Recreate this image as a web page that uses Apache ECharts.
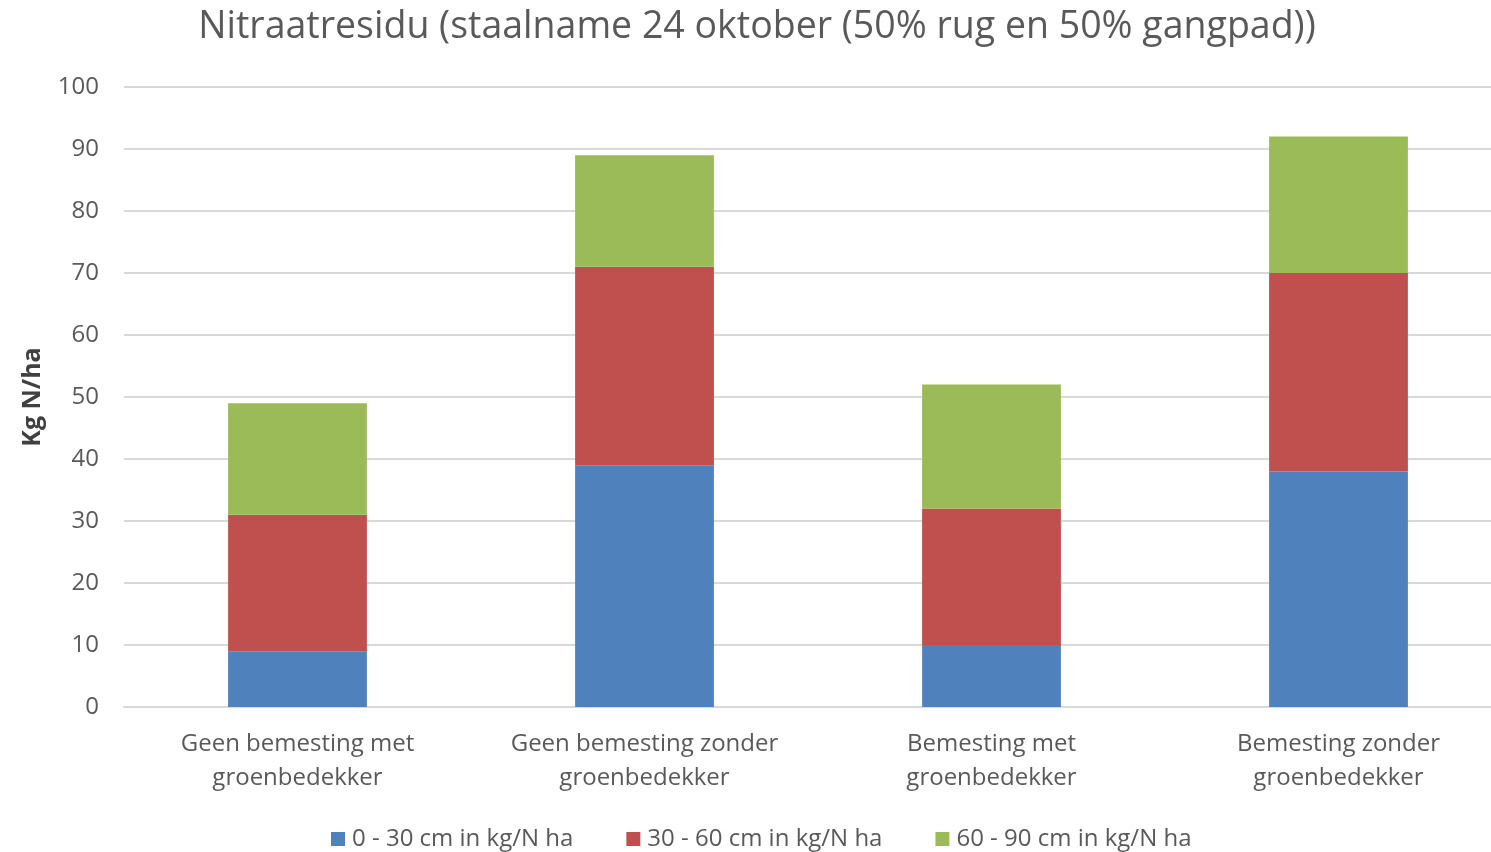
<!DOCTYPE html>
<html>
<head>
<meta charset="utf-8">
<script src="https://cdn.jsdelivr.net/npm/echarts@6/dist/echarts.min.js"></script>
<style>html,body{margin:0;padding:0;background:#fff;overflow:hidden;width:1491px;height:852px}#c{width:1512px;height:852px}</style>
</head>
<body>
<div id="c"></div>
<script>
const categories = ['Geen bemesting met\ngroenbedekker', 'Geen bemesting zonder\ngroenbedekker', 'Bemesting met\ngroenbedekker', 'Bemesting zonder\ngroenbedekker'];
const seriesNames = ['0 - 30 cm in kg/N ha', '30 - 60 cm in kg/N ha', '60 - 90 cm in kg/N ha'];
const layer0to30 = [9, 39, 10, 38];
const layer30to60 = [22, 32, 22, 32];
const layer60to90 = [18, 18, 20, 22];
const yTicks = {min: 0, max: 100, interval: 10};

const colors = ['#4F81BD', '#C0504D', '#9BBB59'];
const font = '"Open Sans", "Noto Sans", sans-serif';
const data = [layer0to30, layer30to60, layer60to90];

const chart = echarts.init(document.getElementById('c'), null, {renderer: 'canvas'});
chart.setOption({
  animation: false,
  title: {
    text: 'Nitraatresidu (staalname 24 oktober (50% rug en 50% gangpad))',
    left: 752, top: 3, textAlign: 'center',
    textStyle: {fontFamily: font, fontSize: 37.5, fontWeight: 'normal', color: '#595959'}
  },
  legend: {
    top: 822, left: 326, itemWidth: 14, itemHeight: 14, itemGap: 53, icon: 'rect',
    textStyle: {fontFamily: font, fontSize: 24, color: '#595959', padding: [0,0,0,2]}
  },
  grid: {left: 124, top: 87, right: 0, height: 620, containLabel: false},
  xAxis: {
    type: 'category', data: categories,
    axisLine: {lineStyle: {color: '#d9d9d9', width: 2}},
    axisTick: {show: false},
    axisLabel: {interval: 0, fontFamily: font, fontSize: 24, color: '#595959', lineHeight: 34, margin: 20}
  },
  yAxis: {
    type: 'value', min: yTicks.min, max: yTicks.max, interval: yTicks.interval,
    name: 'Kg N/ha', nameLocation: 'middle', nameGap: 79, nameRotate: 90,
    nameTextStyle: {fontFamily: font, fontSize: 25, fontWeight: 'bold', color: '#404040'},
    axisLine: {show: false}, axisTick: {show: false},
    axisLabel: {fontFamily: font, fontSize: 24, color: '#595959', margin: 25},
    splitLine: {lineStyle: {color: '#d9d9d9', width: 2}}
  },
  series: seriesNames.map((n, i) => ({
    name: n, type: 'bar', stack: 'total', data: data[i], barWidth: '40%',
    itemStyle: {color: colors[i]}
  }))
});
</script>
</body>
</html>
